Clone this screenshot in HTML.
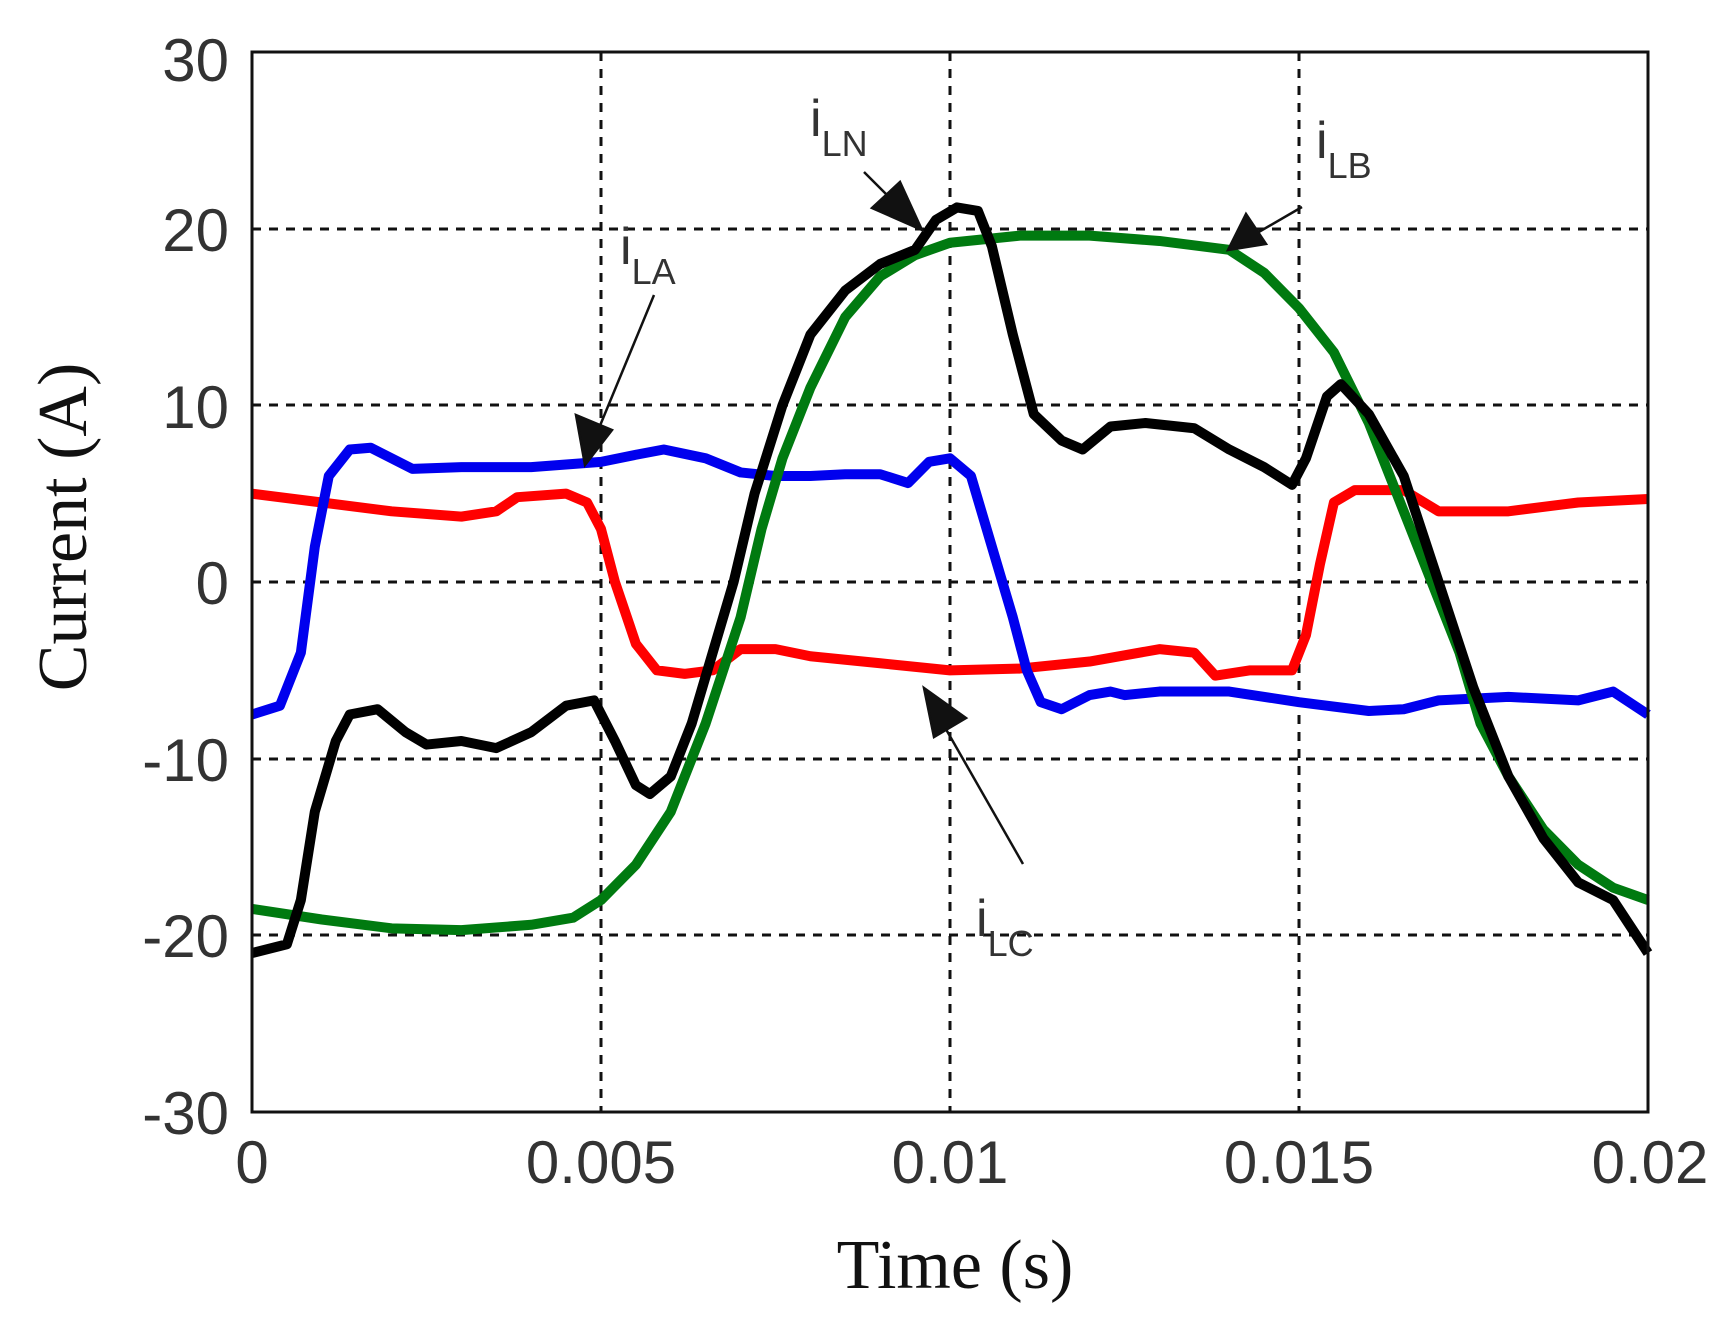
<!DOCTYPE html>
<html><head><meta charset="utf-8"><style>
html,body{margin:0;padding:0;background:#fff;}
svg{display:block;}
.t{font-family:"Liberation Sans",sans-serif;font-size:60px;fill:#333;}
.s{font-family:"Liberation Serif",serif;font-size:70px;fill:#111;}
.a{font-family:"Liberation Sans",sans-serif;fill:#333;}
</style></head><body>
<svg width="1715" height="1322" viewBox="0 0 1715 1322" xmlns="http://www.w3.org/2000/svg">
<rect width="1715" height="1322" fill="#fff"/>
<g stroke="#111" stroke-width="3" stroke-dasharray="9,8" fill="none">
<line x1="601" y1="52" x2="601" y2="1112"/>
<line x1="950" y1="52" x2="950" y2="1112"/>
<line x1="1299" y1="52" x2="1299" y2="1112"/>
<line x1="252" y1="229" x2="1648" y2="229"/>
<line x1="252" y1="405" x2="1648" y2="405"/>
<line x1="252" y1="582" x2="1648" y2="582"/>
<line x1="252" y1="759" x2="1648" y2="759"/>
<line x1="252" y1="935" x2="1648" y2="935"/>
</g>
<g transform="translate(252,582) scale(69.8,-17.67)" fill="none" stroke-width="10" stroke-linejoin="round">
<polyline vector-effect="non-scaling-stroke" stroke="#ff0000" points="0,5 1,4.5 2,4 3,3.7 3.5,4 3.8,4.8 4.5,5 4.8,4.5 5,3 5.2,0 5.5,-3.5 5.8,-5 6.2,-5.2 6.6,-5 7,-3.8 7.5,-3.8 8,-4.2 9,-4.6 10,-5 11,-4.9 12,-4.5 13,-3.8 13.5,-4 13.8,-5.3 14.3,-5 14.9,-5 15.1,-3 15.3,1 15.5,4.5 15.8,5.2 16.5,5.2 17,4 18,4 19,4.5 20,4.7"/>
<polyline vector-effect="non-scaling-stroke" stroke="#0000ee" points="0,-7.5 0.4,-7 0.7,-4 0.9,2 1.1,6 1.4,7.5 1.7,7.6 2,7 2.3,6.4 3,6.5 4,6.5 5,6.8 5.5,7.2 5.9,7.5 6.5,7 7,6.2 7.5,6 8,6 8.5,6.1 9,6.1 9.4,5.6 9.7,6.8 10,7 10.3,6 10.6,2 10.9,-2 11.1,-5 11.3,-6.8 11.6,-7.2 12,-6.4 12.3,-6.2 12.5,-6.4 13,-6.2 14,-6.2 15,-6.8 16,-7.3 16.5,-7.2 17,-6.7 18,-6.5 19,-6.7 19.5,-6.2 20,-7.5"/>
<polyline vector-effect="non-scaling-stroke" stroke="#007a10" points="0,-18.5 1,-19.1 2,-19.6 3,-19.7 4,-19.4 4.6,-19 5,-18 5.5,-16 6,-13 6.5,-8 7,-2 7.3,3 7.6,7 8,11 8.5,15 9,17.3 9.5,18.5 10,19.2 11,19.6 12,19.6 13,19.3 14,18.8 14.5,17.5 15,15.5 15.5,13 16,9 16.5,4 17,-1 17.3,-4 17.6,-8 18,-11 18.5,-14 19,-16 19.5,-17.3 20,-18"/>
<polyline vector-effect="non-scaling-stroke" stroke="#000" points="0,-21 0.5,-20.5 0.7,-18 0.9,-13 1.2,-9 1.4,-7.5 1.8,-7.2 2.2,-8.5 2.5,-9.2 3,-9 3.5,-9.4 4,-8.5 4.5,-7 4.9,-6.7 5.2,-9 5.5,-11.5 5.7,-12 6,-11 6.3,-8 6.6,-4 6.9,0 7.2,5 7.6,10 8,14 8.5,16.5 9,18 9.5,18.8 9.8,20.5 10.1,21.2 10.4,21 10.6,19 10.9,14 11.2,9.5 11.6,8 11.9,7.5 12.3,8.8 12.8,9 13.5,8.7 14,7.5 14.5,6.5 14.9,5.5 15.1,7 15.4,10.5 15.6,11.2 16,9.5 16.5,6 17,0 17.5,-6 18,-11 18.5,-14.5 19,-17 19.5,-18 20,-21"/>
</g>
<rect x="252" y="52" width="1396" height="1060" fill="none" stroke="#111" stroke-width="3"/>
<g class="t" text-anchor="end">
<text x="229" y="81">30</text><text x="229" y="251">20</text><text x="229" y="428">10</text>
<text x="229" y="604">0</text><text x="229" y="781">-10</text><text x="229" y="957">-20</text><text x="229" y="1134">-30</text>
</g>
<g class="t" text-anchor="middle">
<text x="252" y="1183">0</text><text x="601" y="1183">0.005</text><text x="950" y="1183">0.01</text>
<text x="1299" y="1183">0.015</text><text x="1650" y="1183">0.02</text>
</g>
<text class="s" x="955" y="1288" text-anchor="middle">Time (s)</text>
<text class="s" transform="translate(86,527) rotate(-90)" text-anchor="middle">Current (A)</text>
<g stroke="#111" stroke-width="2.5" fill="#111">
<line x1="654" y1="295" x2="592" y2="445"/><polygon points="585,465 576,415 612,430"/>
<line x1="864" y1="172" x2="905" y2="213"/><polygon points="922,230 872,208 900,182"/>
<line x1="1302" y1="207" x2="1245" y2="240"/><polygon points="1228,250 1246,214 1266,244"/>
<line x1="1023" y1="864" x2="935" y2="710"/><polygon points="924,688 966,718 934,737"/>
</g>
<g class="a">
<text x="620" y="264" font-size="52">i<tspan font-size="36" dy="20">LA</tspan></text>
<text x="810" y="136" font-size="52">i<tspan font-size="36" dy="20">LN</tspan></text>
<text x="1316" y="158" font-size="52">i<tspan font-size="36" dy="20">LB</tspan></text>
<text x="976" y="936" font-size="52">i<tspan font-size="36" dy="20">LC</tspan></text>
</g>
</svg>
</body></html>
